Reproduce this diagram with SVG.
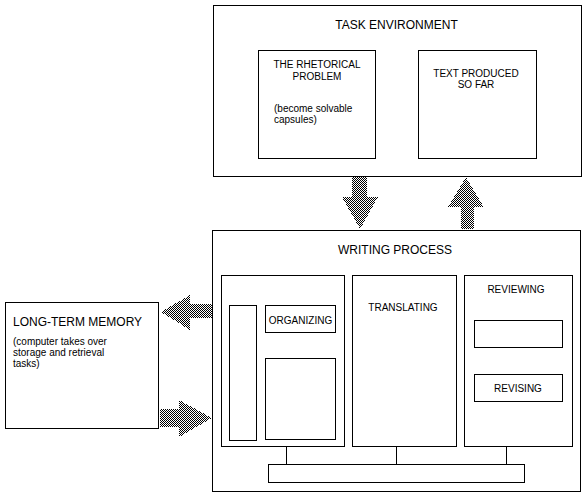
<svg xmlns="http://www.w3.org/2000/svg" width="588" height="499" viewBox="0 0 588 499">
<defs>
<pattern id="dither" patternUnits="userSpaceOnUse" width="2" height="2">
<rect x="0" y="0" width="1" height="1" fill="#000"/>
<rect x="1" y="1" width="1" height="1" fill="#000"/>
</pattern>
<style>
.box{fill:#fff;stroke:#000;stroke-width:1}
.ln{stroke:#000;stroke-width:1;fill:none}
.t12{font-family:"Liberation Sans",Arial,sans-serif;font-size:12px;fill:#000}
.t10{font-family:"Liberation Sans",Arial,sans-serif;font-size:10px;fill:#000}
.c{text-anchor:middle}
.arr{fill:url(#dither);shape-rendering:crispEdges}
</style>
</defs>
<rect width="588" height="499" fill="#fff"/>

<g id="task-environment">
<rect class="box" x="213.5" y="5.5" width="368" height="171"/>
<text class="t12 c" x="396.5" y="29">TASK ENVIRONMENT</text>
</g>
<g id="rhetorical-problem">
<rect class="box" x="258.5" y="50.5" width="117" height="108"/>
<text class="t10 c" x="317" y="68">THE RHETORICAL</text>
<text class="t10 c" x="317" y="80">PROBLEM</text>
<text class="t10" x="274" y="112">(become solvable</text>
<text class="t10" x="274" y="123">capsules)</text>
</g>
<g id="text-produced">
<rect class="box" x="418.5" y="50.5" width="118" height="108"/>
<text class="t10 c" x="476" y="77">TEXT PRODUCED</text>
<text class="t10 c" x="476" y="88">SO FAR</text>
</g>

<g id="writing-process">
<rect class="box" x="212.5" y="230.5" width="368" height="261"/>
<text class="t12 c" x="395" y="254">WRITING PROCESS</text>
</g>
<g id="planning">
<rect class="box" x="221.5" y="275.5" width="123" height="171"/>
<rect class="box" x="229.5" y="305.5" width="27" height="135"/>
</g>
<g id="organizing">
<rect class="box" x="265.5" y="305.5" width="70" height="27"/>
<text class="t10 c" x="300.5" y="324">ORGANIZING</text>
</g>
<g id="planning-lower">
<rect class="box" x="265.5" y="358.5" width="70" height="81"/>
</g>
<g id="translating">
<rect class="box" x="352.5" y="275.5" width="104" height="171"/>
<text class="t10 c" x="403" y="311">TRANSLATING</text>
</g>
<g id="reviewing">
<rect class="box" x="464.5" y="275.5" width="108" height="171"/>
<text class="t10 c" x="516" y="293">REVIEWING</text>
<rect class="box" x="474.5" y="320.5" width="88" height="27"/>
</g>
<g id="revising">
<rect class="box" x="474.5" y="374.5" width="88" height="27"/>
<text class="t10 c" x="518" y="392">REVISING</text>
</g>
<g id="monitor">
<rect class="box" x="268.5" y="464.5" width="256" height="18"/>
</g>

<g id="long-term-memory">
<rect class="box" x="5.5" y="302.5" width="153" height="126"/>
<text class="t12" x="13" y="326">LONG-TERM MEMORY</text>
<text class="t10" x="13" y="345">(computer takes over</text>
<text class="t10" x="13" y="356">storage and retrieval</text>
<text class="t10" x="13" y="367">tasks)</text>
</g>

<g id="connectors">
<line class="ln" x1="286.5" y1="446" x2="286.5" y2="464"/>
<line class="ln" x1="396.5" y1="446" x2="396.5" y2="464"/>
<line class="ln" x1="506.5" y1="446" x2="506.5" y2="464"/>
<polygon class="arr" points="352,177 367,177 367,197 378,197 360,229 342,197 352,197"/>
<polygon class="arr" points="466,177 484,207 474,207 474,229 461,229 461,207 448,207"/>
<polygon class="arr" points="161,312 190,295 190,304 212,304 212,318 190,318 190,330"/>
<polygon class="arr" points="160,409 179,409 179,400 212,418 179,437 179,427 160,427"/>
</g>
</svg>
